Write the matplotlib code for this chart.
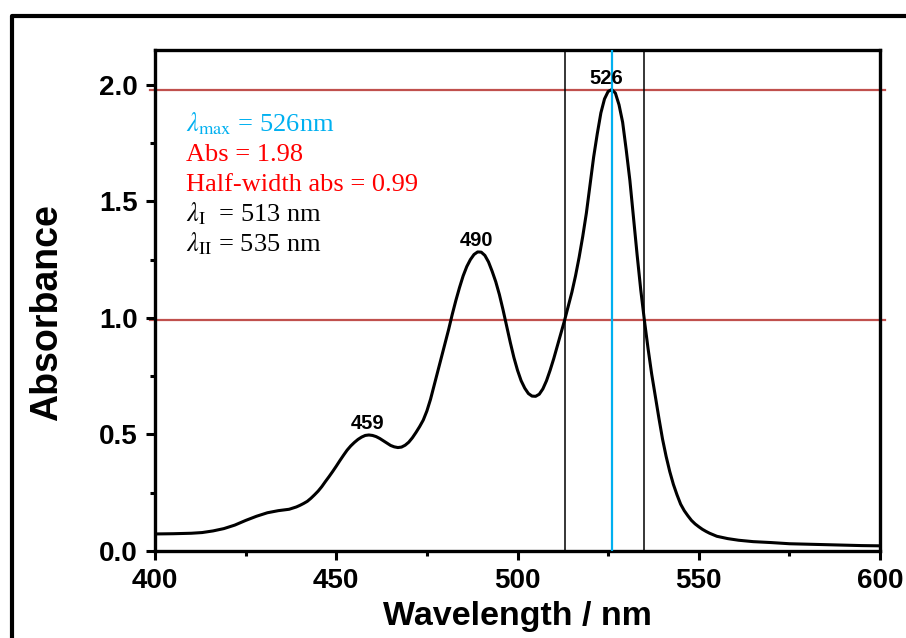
import matplotlib
matplotlib.use('Agg')
import matplotlib.pyplot as plt
from matplotlib.lines import Line2D
from matplotlib.ticker import MultipleLocator, FormatStrFormatter

# spectrum
wavelength = [400, 405, 410, 413, 416, 419, 422, 425, 428, 431, 434, 437, 439,
              440, 441, 442, 443, 444, 445, 446, 447, 448, 449, 450, 451, 452, 453, 454,
              455, 456, 457, 458, 459, 460, 461, 462, 463, 464, 465, 466, 467, 468, 469, 470,
              471, 472, 473, 474, 475, 476, 477, 478, 479, 480, 481, 482, 483, 484,
              485, 486, 487, 488, 489, 490, 491, 492, 493, 494, 495, 496, 497, 498, 499, 500,
              501, 502, 503, 504, 505, 506, 507, 508, 509, 510, 511, 512, 513, 514, 515, 516,
              517, 518, 519, 520, 521, 522, 523, 524, 525, 526, 527, 528, 529, 530, 531, 532,
              533, 534, 535, 536, 537, 538, 539, 540, 541, 542, 543, 544, 545, 546, 547, 548,
              549, 550, 551, 552, 553, 555, 558, 561, 565, 570, 575, 580, 585, 590, 595, 600]
absorbance = [0.072, 0.073, 0.075, 0.078, 0.085, 0.095, 0.110, 0.130, 0.148, 0.163, 0.172, 0.178, 0.188,
              0.195, 0.203, 0.212, 0.225, 0.240, 0.256, 0.275, 0.297, 0.318, 0.340, 0.363, 0.387, 0.410, 0.432, 0.450,
              0.465, 0.478, 0.488, 0.495, 0.497, 0.495, 0.490, 0.482, 0.472, 0.462, 0.452, 0.446, 0.443, 0.445, 0.453, 0.466,
              0.485, 0.508, 0.533, 0.561, 0.600, 0.650, 0.710, 0.770, 0.830, 0.890, 0.950, 1.015, 1.075, 1.130,
              1.180, 1.220, 1.250, 1.272, 1.283, 1.282, 1.268, 1.240, 1.200, 1.155, 1.100, 1.035, 0.965, 0.895, 0.830, 0.775,
              0.730, 0.698, 0.675, 0.664, 0.663, 0.672, 0.695, 0.730, 0.775, 0.825, 0.880, 0.935, 0.990, 1.050, 1.110, 1.180,
              1.260, 1.350, 1.450, 1.570, 1.690, 1.790, 1.880, 1.940, 1.972, 1.980, 1.965, 1.915, 1.840, 1.720, 1.590, 1.430,
              1.270, 1.120, 0.990, 0.870, 0.760, 0.665, 0.570, 0.480, 0.405, 0.340, 0.285, 0.240, 0.200, 0.172, 0.150, 0.130,
              0.115, 0.103, 0.092, 0.083, 0.075, 0.062, 0.052, 0.045, 0.039, 0.035, 0.030, 0.028, 0.026, 0.024, 0.022, 0.021]

peak_wl = [459, 490, 526]
peak_abs = [0.497, 1.283, 1.98]
lambda_max = 526
abs_max = 1.98
half_abs = 0.99
lambda_1 = 513
lambda_2 = 535

info_lines = [r'$\lambda_{\mathrm{max}}$ = 526nm', 'Abs = 1.98', 'Half-width abs = 0.99',
              r'$\lambda_{\mathrm{I}}$  = 513 nm', r'$\lambda_{\mathrm{II}}$ = 535 nm']
info_colors = ['#00b0f0', '#ff0000', '#ff0000', 'black', 'black']

plt.rcParams['font.family'] = 'Liberation Sans'
plt.rcParams['mathtext.fontset'] = 'stix'

fig = plt.figure(figsize=(9.06, 6.38), dpi=100)
ax = fig.add_axes([0.1711, 0.1368, 0.8002, 0.7848])

# outer frame (cut off at right and bottom)
fig.add_artist(Line2D([0.0127, 0.0127, 1.0], [-0.01, 0.9757, 0.9757],
                      transform=fig.transFigure, color='black', lw=3))

# guide lines
for h in [abs_max, half_abs]:
    ax.plot([398.5, 601.5], [h, h], color='#c0504d', lw=1.6, clip_on=False, zorder=1)
ax.axvline(lambda_1, color='black', lw=1.1, zorder=1)
ax.axvline(lambda_2, color='black', lw=1.1, zorder=1)
ax.axvline(lambda_max, color='#00b0f0', lw=1.6, zorder=3)

ax.plot(wavelength, absorbance, color='black', lw=2.2, zorder=2)

offsets = [-0.4, -1.2, -1.4]
for wl, a, dx in zip(peak_wl, peak_abs, offsets):
    ax.text(wl + dx, a + 0.025, str(wl), ha='center', va='baseline',
            fontsize=14.5, fontweight='bold')

for i, (s, c) in enumerate(zip(info_lines, info_colors)):
    ax.text(408.6, 1.80 - i * 0.1285, s, color=c, fontsize=19,
            family='Liberation Serif', ha='left', va='baseline')

ax.set_xlim(400, 600)
ax.set_ylim(0, 2.15)
ax.xaxis.set_major_locator(MultipleLocator(50))
ax.xaxis.set_minor_locator(MultipleLocator(25))
ax.yaxis.set_major_locator(MultipleLocator(0.5))
ax.yaxis.set_minor_locator(MultipleLocator(0.25))
ax.yaxis.set_major_formatter(FormatStrFormatter('%.1f'))

for sp in ax.spines.values():
    sp.set_linewidth(2.4)
ax.tick_params(which='major', direction='out', length=6.5, width=2.2, pad=6,
               labelsize=20)
ax.tick_params(which='minor', direction='out', length=3.5, width=2.2)
for lab in ax.get_xticklabels() + ax.get_yticklabels():
    lab.set_fontweight('bold')

ax.set_xlabel('Wavelength / nm', fontsize=24.5, fontweight='bold', labelpad=5)
ax.set_ylabel('Absorbance', fontsize=27, fontweight='bold')
ax.yaxis.set_label_coords(-0.124, 0.475)

fig.savefig('out.png', dpi=100)
